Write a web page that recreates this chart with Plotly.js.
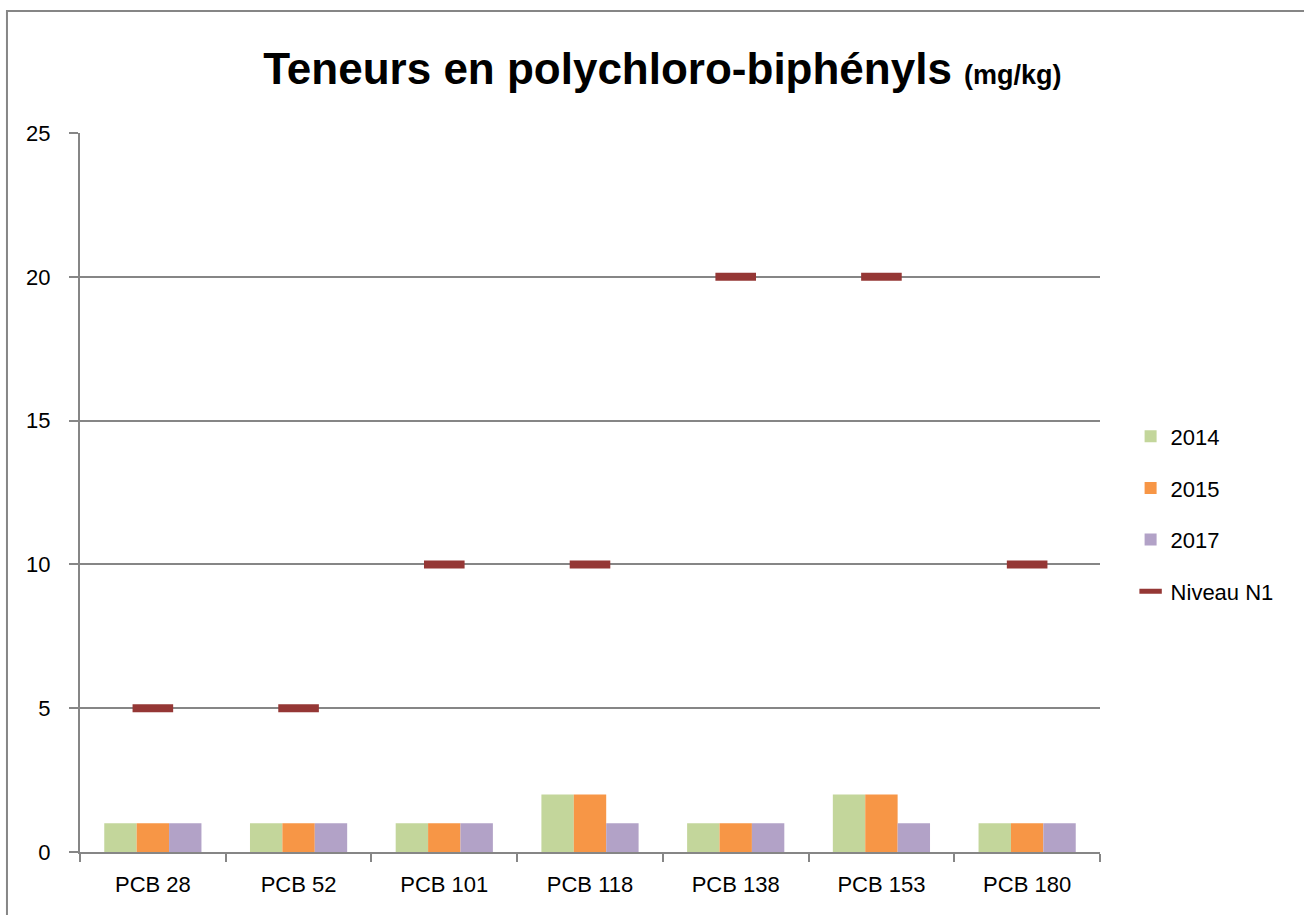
<!DOCTYPE html>
<html>
<head>
<meta charset="utf-8">
<script src="https://cdn.plot.ly/plotly-3.0.1.min.js"></script>
<style>html,body{margin:0;padding:0;background:#fff;}#chart{width:1304px;height:915px;}</style>
</head>
<body>
<div id="chart"></div>
<script>
const categories = ["PCB 28","PCB 52","PCB 101","PCB 118","PCB 138","PCB 153","PCB 180"];
const v2014 = [1,1,1,2,1,2,1];
const v2015 = [1,1,1,2,1,2,1];
const v2017 = [1,1,1,1,1,1,1];
const niveauN1 = [5,5,10,10,20,20,10];

const FONT = "Liberation Sans, Arial, sans-serif";
const traces = [
  {type:"bar", name:"2014", x:categories, y:v2014, marker:{color:"#C3D69B"}, legendgroup:"a"},
  {type:"bar", name:"2015", x:categories, y:v2015, marker:{color:"#F79646"}, legendgroup:"b"},
  {type:"bar", name:"2017", x:categories, y:v2017, marker:{color:"#B2A2C7"}, legendgroup:"c"},
  {type:"scatter", mode:"markers", name:"Niveau N1", x:categories, y:niveauN1, legendgroup:"d",
   marker:{symbol:"line-ew", size:29, color:"#953735", line:{color:"#953735", width:8}}}
];
const layout = {
  width:1304, height:915,
  margin:{l:80, r:204, t:133, b:63},
  paper_bgcolor:"#fff", plot_bgcolor:"#fff",
  font:{family:FONT, size:21, color:"#000"},
  title:{text:"<b>Teneurs en polychloro-biphényls <span style='font-size:27px'>(mg/kg)</span></b>",
         font:{family:FONT, size:44, color:"#000"}, x:0.508, xanchor:"center", y:0.925, yanchor:"middle"},
  barmode:"group", bargap:0.333, bargroupgap:0,
  xaxis:{type:"category", showline:true, linecolor:"#868686", linewidth:2, ticks:"outside", tickson:"boundaries",
         ticklen:8, tickcolor:"#868686", tickwidth:2, showgrid:false, tickfont:{size:22}, ticklabelstandoff:12},
  yaxis:{range:[0,25], dtick:5, showline:true, linecolor:"#868686", linewidth:2, ticks:"outside", ticklen:9,
         tickcolor:"#868686", tickwidth:2, gridcolor:"#868686", gridwidth:1.5, zeroline:false, tickfont:{size:22},
         ticklabelstandoff:14},
  legend:{x:1.03, xanchor:"left", y:0.47, yanchor:"middle", font:{size:22}, tracegroupgap:20, traceorder:"grouped"},
  shapes:[{type:"rect", xref:"paper", yref:"paper", x0:-0.0716, x1:1.21, y0:-0.1, y1:1.1697,
           line:{color:"#868686", width:2}, fillcolor:"rgba(0,0,0,0)", layer:"below"}]
};
Plotly.newPlot("chart", traces, layout, {displayModeBar:false});
</script>
</body>
</html>
